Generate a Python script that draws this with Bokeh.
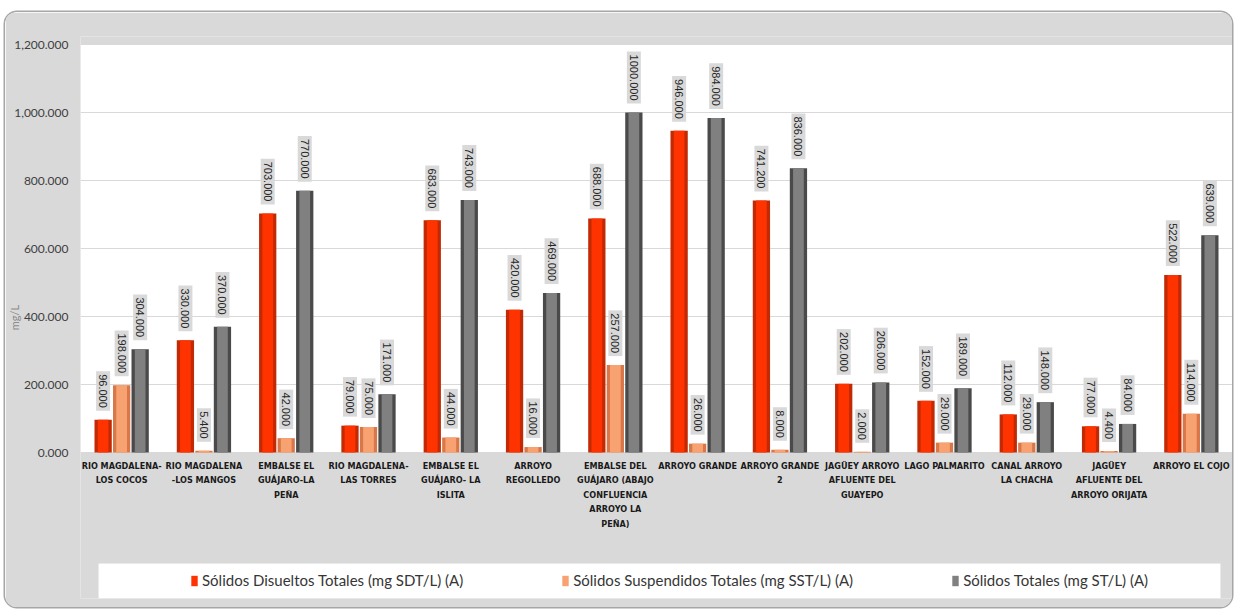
import math

from bokeh.core.properties import value
from bokeh.embed import file_html
from bokeh.models import (BoxAnnotation, ColumnDataSource, FactorRange, FixedTicker,
                          Legend, LegendItem, NumeralTickFormatter, Range1d)
from bokeh.plotting import figure
from bokeh.resources import INLINE
from bokeh.transform import dodge

# Sampling points (multi-line tick labels)
sites = [
    "RIO MAGDALENA-\nLOS COCOS",
    "RIO MAGDALENA\n-LOS MANGOS",
    "EMBALSE EL\nGUÁJARO-LA\nPEÑA",
    "RIO MAGDALENA-\nLAS TORRES",
    "EMBALSE EL\nGUÁJARO- LA\nISLITA",
    "ARROYO\nREGOLLEDO",
    "EMBALSE DEL\nGUÁJARO (ABAJO\nCONFLUENCIA\nARROYO LA\nPEÑA)",
    "ARROYO GRANDE",
    "ARROYO GRANDE\n2",
    "JAGÜEY ARROYO\nAFLUENTE DEL\nGUAYEPO",
    "LAGO PALMARITO",
    "CANAL ARROYO\nLA CHACHA",
    "JAGÜEY\nAFLUENTE DEL\nARROYO ORIJATA",
    "ARROYO EL COJO",
]

# mg/L
sdt = [96.0, 330.0, 703.0, 79.0, 683.0, 420.0, 688.0, 946.0, 741.2, 202.0, 152.0, 112.0, 77.0, 522.0]
sst = [198.0, 5.4, 42.0, 75.0, 44.0, 16.0, 257.0, 26.0, 8.0, 2.0, 29.0, 29.0, 4.4, 114.0]
st = [304.0, 370.0, 770.0, 171.0, 743.0, 469.0, 1000.0, 984.0, 836.0, 206.0, 189.0, 148.0, 84.0, 639.0]

series_names = [
    "Sólidos Disueltos Totales (mg SDT/L) (A)",
    "Sólidos Suspendidos Totales (mg SST/L) (A)",
    "Sólidos Totales (mg ST/L) (A)",
]
y_ticks = [0, 200, 400, 600, 800, 1000, 1200]
y_max = 1200

PANEL = "#d9d9d9"
series_styles = [
    (sdt, -0.225, "#c22a05", "#ff3300"),
    (sst, 0.0, "#d8784a", "#f9a271"),
    (st, 0.225, "#4a4a4a", "#808080"),
]

# Layout in canvas pixels: the frame runs from just above the 1,200 line down
# to the bottom of the legend strip, so the legend can live inside it.
PX_PER_UNIT = 408 / y_max          # 0 .. 1,200 spans 408 px
FRAME_TOP, ZERO_Y, FRAME_BOTTOM = 24, 440, 586
y_start = -(FRAME_BOTTOM - ZERO_Y) / PX_PER_UNIT
y_end = y_max + (ZERO_Y - 408 - FRAME_TOP) / PX_PER_UNIT
strip_top = -(551 - ZERO_Y) / PX_PER_UNIT

p = figure(
    width=1227, height=595,
    x_range=FactorRange(factors=sites),
    y_range=Range1d(y_start, y_end),
    output_backend="svg",
    toolbar_location=None,
    min_border_left=70, min_border_right=0,
    min_border_top=FRAME_TOP, min_border_bottom=595 - FRAME_BOTTOM,
)
p.margin = (12, 4, 5, 5)
p.styles = {
    "border-radius": "12px",
    "overflow": "hidden",
    "box-shadow": "0 0 0 1.5px #a6a6a6",
}
p.border_fill_color = PANEL
p.background_fill_color = PANEL
p.outline_line_color = None

# white plotting area between 0 and the top tick
p.add_layout(BoxAnnotation(bottom=0, top=y_max, fill_color="white", fill_alpha=1.0,
                           line_color=None, level="image"))
# white legend strip
p.add_layout(BoxAnnotation(
    left=93, right=1215, left_units="canvas", right_units="canvas",
    top=strip_top, bottom=y_start,
    fill_color="white", fill_alpha=1.0, line_color="#e6e6e6", line_width=1, level="image",
))

items = []
for (vals, off, edge, main), name in zip(series_styles, series_names):
    src = ColumnDataSource(dict(site=sites, val=vals, txt=[f"{v:.3f}" for v in vals]))
    xs = dodge("site", off, range=p.x_range)
    p.vbar(x=xs, top="val", width=0.21, source=src, fill_color=edge, line_color=None)
    r = p.vbar(x=xs, top="val", width=0.13, source=src, fill_color=main, line_color=None)
    p.text(
        x=xs, y="val", text="txt", source=src,
        angle=-math.pi / 2, text_align="right", text_baseline="middle",
        y_offset=-9, padding=3,
        text_font=value("Liberation Sans"), text_font_size="11px", text_color="#262626",
        background_fill_color=PANEL, background_fill_alpha=1.0,
    )
    items.append(LegendItem(label=name, renderers=[r]))

p.yaxis.ticker = FixedTicker(ticks=y_ticks)
p.yaxis.formatter = NumeralTickFormatter(format="0,0.000")
p.yaxis.axis_line_color = None
p.yaxis.major_tick_line_color = None
p.yaxis.minor_tick_line_color = None
p.yaxis.major_tick_out = 0
p.yaxis.major_tick_in = 0
p.yaxis.minor_tick_out = 0
p.yaxis.minor_tick_in = 0
p.yaxis.major_label_standoff = 12
p.yaxis.major_label_text_font = "Lato"
p.yaxis.major_label_text_font_size = "12px"
p.yaxis.major_label_text_color = "#404040"
# unit label, left of the tick labels
p.yaxis.axis_label = "mg/L"
p.yaxis.axis_label_standoff = -10
p.yaxis.axis_label_text_font = "Lato"
p.yaxis.axis_label_text_font_style = "normal"
p.yaxis.axis_label_text_font_size = "11px"
p.yaxis.axis_label_text_color = "#8c8c8c"

# category labels sit just under the zero line, above the legend strip
p.xaxis.axis_line_color = None
p.xaxis.major_tick_line_color = None
p.xaxis.major_tick_out = 0
p.xaxis.major_tick_in = 0
p.xaxis.major_label_standoff = -(FRAME_BOTTOM - ZERO_Y) + 8
p.xaxis.major_label_text_font = "DejaVu Sans Condensed"
p.xaxis.major_label_text_font_style = "bold"
p.xaxis.major_label_text_font_size = "9px"
p.xaxis.major_label_text_color = "#1a1a1a"
p.xaxis.major_label_text_line_height = 1.45

p.xgrid.grid_line_color = None
p.ygrid.grid_line_color = "#d9d9d9"
p.ygrid.grid_line_width = 1

legend = Legend(
    items=items, orientation="horizontal", location=(110, 9),
    background_fill_alpha=0, border_line_color=None, padding=0, margin=0,
    spacing=98, glyph_width=8, glyph_height=13, label_standoff=4,
    label_text_font="Lato", label_text_font_size="15px", label_text_color="#363636",
)
p.add_layout(legend)

open("out.html", "w").write(file_html(p, INLINE))
